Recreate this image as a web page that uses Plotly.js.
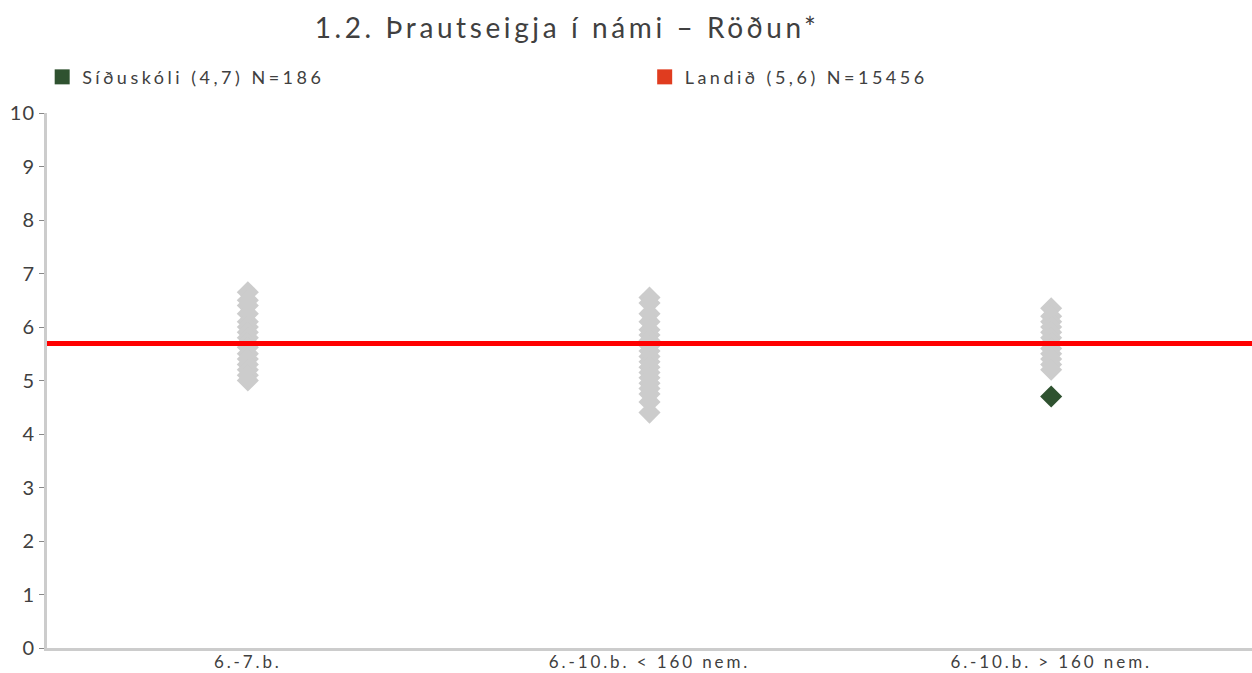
<!DOCTYPE html>
<html><head><meta charset="utf-8">
<script src="https://cdn.plot.ly/plotly-3.0.1.min.js"></script>
<style>html,body{margin:0;padding:0;background:#fff}#chart{width:1252px;height:673px}
#chart .gtitle{letter-spacing:3.6px}
#chart g[class^="legend"] text{letter-spacing:3.5px}
#chart g[class^="legend"], #chart g[class^="legend"] *{clip-path:none !important}
#chart .xtick text{letter-spacing:2.9px}
#chart .ytick text{letter-spacing:1px}
</style>
</head><body><div id="chart"></div>
<script>
const categories = ["6.-7.b.", "6.-10.b. < 160 nem.", "6.-10.b. > 160 nem."];
const group1 = [6.65, 6.5, 6.4, 6.25, 6.1, 6.0, 5.9, 5.8, 5.7, 5.62, 5.5, 5.4, 5.3, 5.2, 5.1, 5.0];
const group2 = [6.55, 6.45, 6.25, 6.1, 5.95, 5.85, 5.75, 5.65, 5.55, 5.45, 5.35, 5.25, 5.15, 5.05, 4.95, 4.85, 4.75, 4.6, 4.4];
const group3 = [6.35, 6.2, 6.1, 6.0, 5.9, 5.8, 5.7, 5.6, 5.5, 5.4, 5.3, 5.2];
const schoolName = "Síðuskóli (4,7) N=186";
const schoolCategory = "6.-10.b. > 160 nem.";
const schoolValue = 4.7;
const nationName = "Landið (5,6) N=15456";
const nationValue = 5.69;
const yTicks = [0,1,2,3,4,5,6,7,8,9,10];

const others = [group1, group2, group3];
const gx = [], gy = [];
others.forEach((g, i) => g.forEach(v => { gx.push(categories[i]); gy.push(v); }));

const traces = [
  {x: gx, y: gy, type: 'scatter', mode: 'markers', showlegend: false, hoverinfo: 'skip',
   marker: {symbol: 'diamond', size: 17, color: '#cccccc'}},
  {x: [schoolCategory], y: [schoolValue], type: 'scatter', mode: 'markers', showlegend: false,
   marker: {symbol: 'diamond', size: 17, color: '#2f5230'}},
  {x: [null], y: [null], type: 'scatter', mode: 'markers', name: schoolName, legend: 'legend',
   marker: {symbol: 'square', size: 15, color: '#2f5230'}},
  {x: [null], y: [null], type: 'scatter', mode: 'markers', name: nationName, legend: 'legend2',
   marker: {symbol: 'square', size: 15, color: '#e03c1f'}}
];

const legFont = {size: 18, color: '#404040'};
const layout = {
  width: 1252, height: 673,
  margin: {l: 47, r: 0, t: 113, b: 25},
  paper_bgcolor: '#fff', plot_bgcolor: '#fff',
  font: {family: 'Lato, "Open Sans", sans-serif', color: '#404040', size: 17},
  title: {text: '1.2. Þrautseigja í námi – Röðun*', x: 0.453, xanchor: 'center', y: 0.958, yanchor: 'middle',
          font: {size: 28, color: '#404040', family: 'Lato, sans-serif'}},
  showlegend: true,
  legend: {x: -0.004, xanchor: 'left', y: 1.067, yanchor: 'middle', font: legFont, itemsizing: 'trace', bgcolor: 'rgba(0,0,0,0)'},
  legend2: {x: 0.496, xanchor: 'left', y: 1.067, yanchor: 'middle', font: legFont, itemsizing: 'trace', bgcolor: 'rgba(0,0,0,0)'},
  xaxis: {type: 'category', categoryarray: categories, categoryorder: 'array', range: [-0.5, 2.5],
          showgrid: false, zeroline: false, showline: true, linecolor: '#cccccc', linewidth: 3,
          ticks: '', ticklabelstandoff: -3, tickfont: {size: 17, color: '#404040'}, fixedrange: true},
  yaxis: {range: [0, 10], tickvals: yTicks, showgrid: false, zeroline: false, showline: true,
          linecolor: '#cccccc', linewidth: 3, ticks: 'outside', ticklen: 5, tickcolor: '#888888', tickwidth: 1,
          tickfont: {size: 20, color: '#404040'}, fixedrange: true},
  shapes: [{type: 'line', xref: 'paper', x0: 0, x1: 1, yref: 'y', y0: nationValue, y1: nationValue,
            line: {color: '#ff0000', width: 5}}]
};
Plotly.newPlot('chart', traces, layout, {displayModeBar: false, staticPlot: true});
</script></body></html>
